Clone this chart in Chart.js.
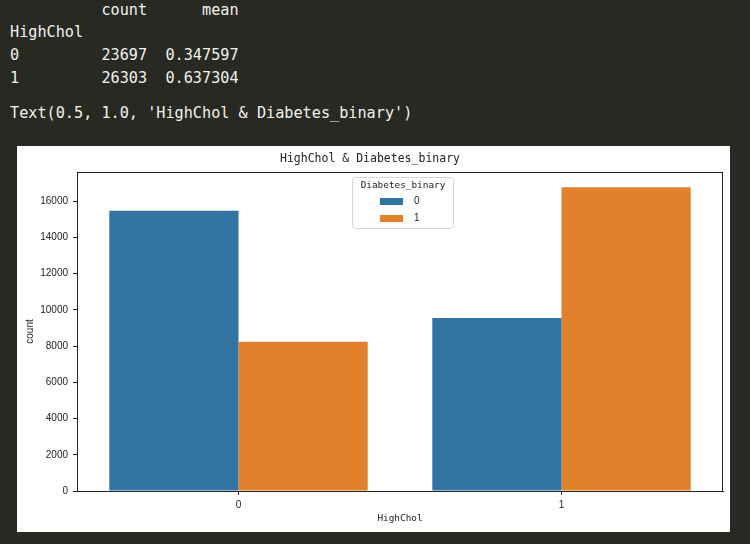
<!DOCTYPE html>
<html>
<head>
<meta charset="utf-8">
<script src="https://cdn.jsdelivr.net/npm/chart.js@4.4.0/dist/chart.umd.min.js"></script>
<style>
  html, body { margin: 0; padding: 0; }
  body { width: 750px; height: 544px; background: #282923; position: relative; overflow: hidden; }
  .out { position: absolute; left: 10px; margin: 0; color: #f2f2ec;
         font-family: "DejaVu Sans Mono", monospace; font-size: 15.2px; line-height: 22.7px; white-space: pre; }
  #fig { position: absolute; left: 17px; top: 146px; width: 713px; height: 386px; background: #fff; }
</style>
</head>
<body>
<pre class="out" style="top:-1.5px">          count      mean
HighChol
0         23697  0.347597
1         26303  0.637304</pre>
<pre class="out" style="top:102px">Text(0.5, 1.0, 'HighChol &amp; Diabetes_binary')</pre>
<div id="fig"><canvas id="chart" width="713" height="386"></canvas></div>
<script>
const categories = ['0', '1'];          // HighChol
const seriesNames = ['0', '1'];         // Diabetes_binary
const noDiabetes = [15460, 9540];
const diabetes = [8237, 16763];
const colors = ['#3274a1', '#e1812c'];
const yTicks = [0, 2000, 4000, 6000, 8000, 10000, 12000, 14000, 16000];

const ink = '#222';

// full box around the axes, plus the legend in the upper centre
const boxAndLegend = {
    id: 'boxAndLegend',
    afterDatasetsDraw(chart) {
        const { ctx, chartArea: a } = chart;
        ctx.save();
        ctx.strokeStyle = ink;
        ctx.lineWidth = 1;
        ctx.strokeRect(Math.round(a.left) + 0.5, Math.round(a.top) + 0.5,
            Math.round(a.right - a.left) - 1, Math.round(a.bottom - a.top));
        ctx.restore();
    },
    afterDraw(chart) {
        const { ctx } = chart;
        const x = 335.5, y = 31.5, w = 101, h = 51, r = 3;
        ctx.save();
        ctx.beginPath();
        ctx.roundRect(x, y, w, h, r);
        ctx.fillStyle = 'rgba(255,255,255,0.8)';
        ctx.fill();
        ctx.strokeStyle = '#d6d6d6';
        ctx.lineWidth = 1;
        ctx.stroke();

        ctx.fillStyle = ink;
        ctx.textBaseline = 'middle';
        ctx.textAlign = 'center';
        ctx.font = '9.4px "DejaVu Sans Mono"';
        ctx.fillText('Diabetes_binary', x + w / 2, 40);

        ctx.textAlign = 'left';
        ctx.font = '10px "Liberation Sans"';
        chart.data.datasets.forEach((ds, i) => {
            const cy = 55 + i * 17;
            ctx.fillStyle = ds.backgroundColor;
            ctx.fillRect(363, cy - 3, 23, 7);
            ctx.fillStyle = ink;
            ctx.fillText(ds.label, 397, cy + 0.5);
        });
        ctx.restore();
    }
};

new Chart(document.getElementById('chart').getContext('2d'), {
    type: 'bar',
    data: {
        labels: categories,
        datasets: [
            { label: seriesNames[0], data: noDiabetes, backgroundColor: colors[0] },
            { label: seriesNames[1], data: diabetes, backgroundColor: colors[1] }
        ]
    },
    options: {
        responsive: false,
        animation: false,
        categoryPercentage: 0.8,
        barPercentage: 1.0,
        layout: { padding: { left: 0, right: 7, top: 0, bottom: 0 } },
        plugins: {
            legend: { display: false },
            tooltip: { enabled: false },
            title: {
                display: true,
                text: 'HighChol & Diabetes_binary',
                color: ink,
                font: { family: 'DejaVu Sans Mono', size: 11.5, weight: 'normal' },
                padding: { top: 6.1, bottom: 6.1 }
            }
        },
        scales: {
            x: {
                afterFit: s => { s.height = 41; },
                grid: { drawOnChartArea: false, offset: false, tickLength: 4, color: ink },
                border: { display: true, color: ink, width: 1 },
                ticks: { color: ink, padding: 4, font: { family: 'Liberation Sans', size: 10 } },
                title: {
                    display: true, text: 'HighChol', color: ink,
                    font: { family: 'DejaVu Sans Mono', size: 9.4 },
                    padding: { top: 0, bottom: 7.4 }
                }
            },
            y: {
                min: 0,
                max: 17601,
                afterFit: s => { s.width = 60; },
                afterBuildTicks: s => { s.ticks = yTicks.map(v => ({ value: v })); },
                grid: { drawOnChartArea: false, tickLength: 4, color: ink },
                border: { display: true, color: ink, width: 1 },
                ticks: {
                    color: ink, padding: 5,
                    font: { family: 'Liberation Sans', size: 10 },
                    callback: v => String(v)
                },
                title: {
                    display: true, text: 'count', color: ink,
                    font: { family: 'Liberation Sans', size: 10 },
                    padding: { top: 7, bottom: 0 }
                }
            }
        }
    },
    plugins: [boxAndLegend]
});
</script>
</body>
</html>
